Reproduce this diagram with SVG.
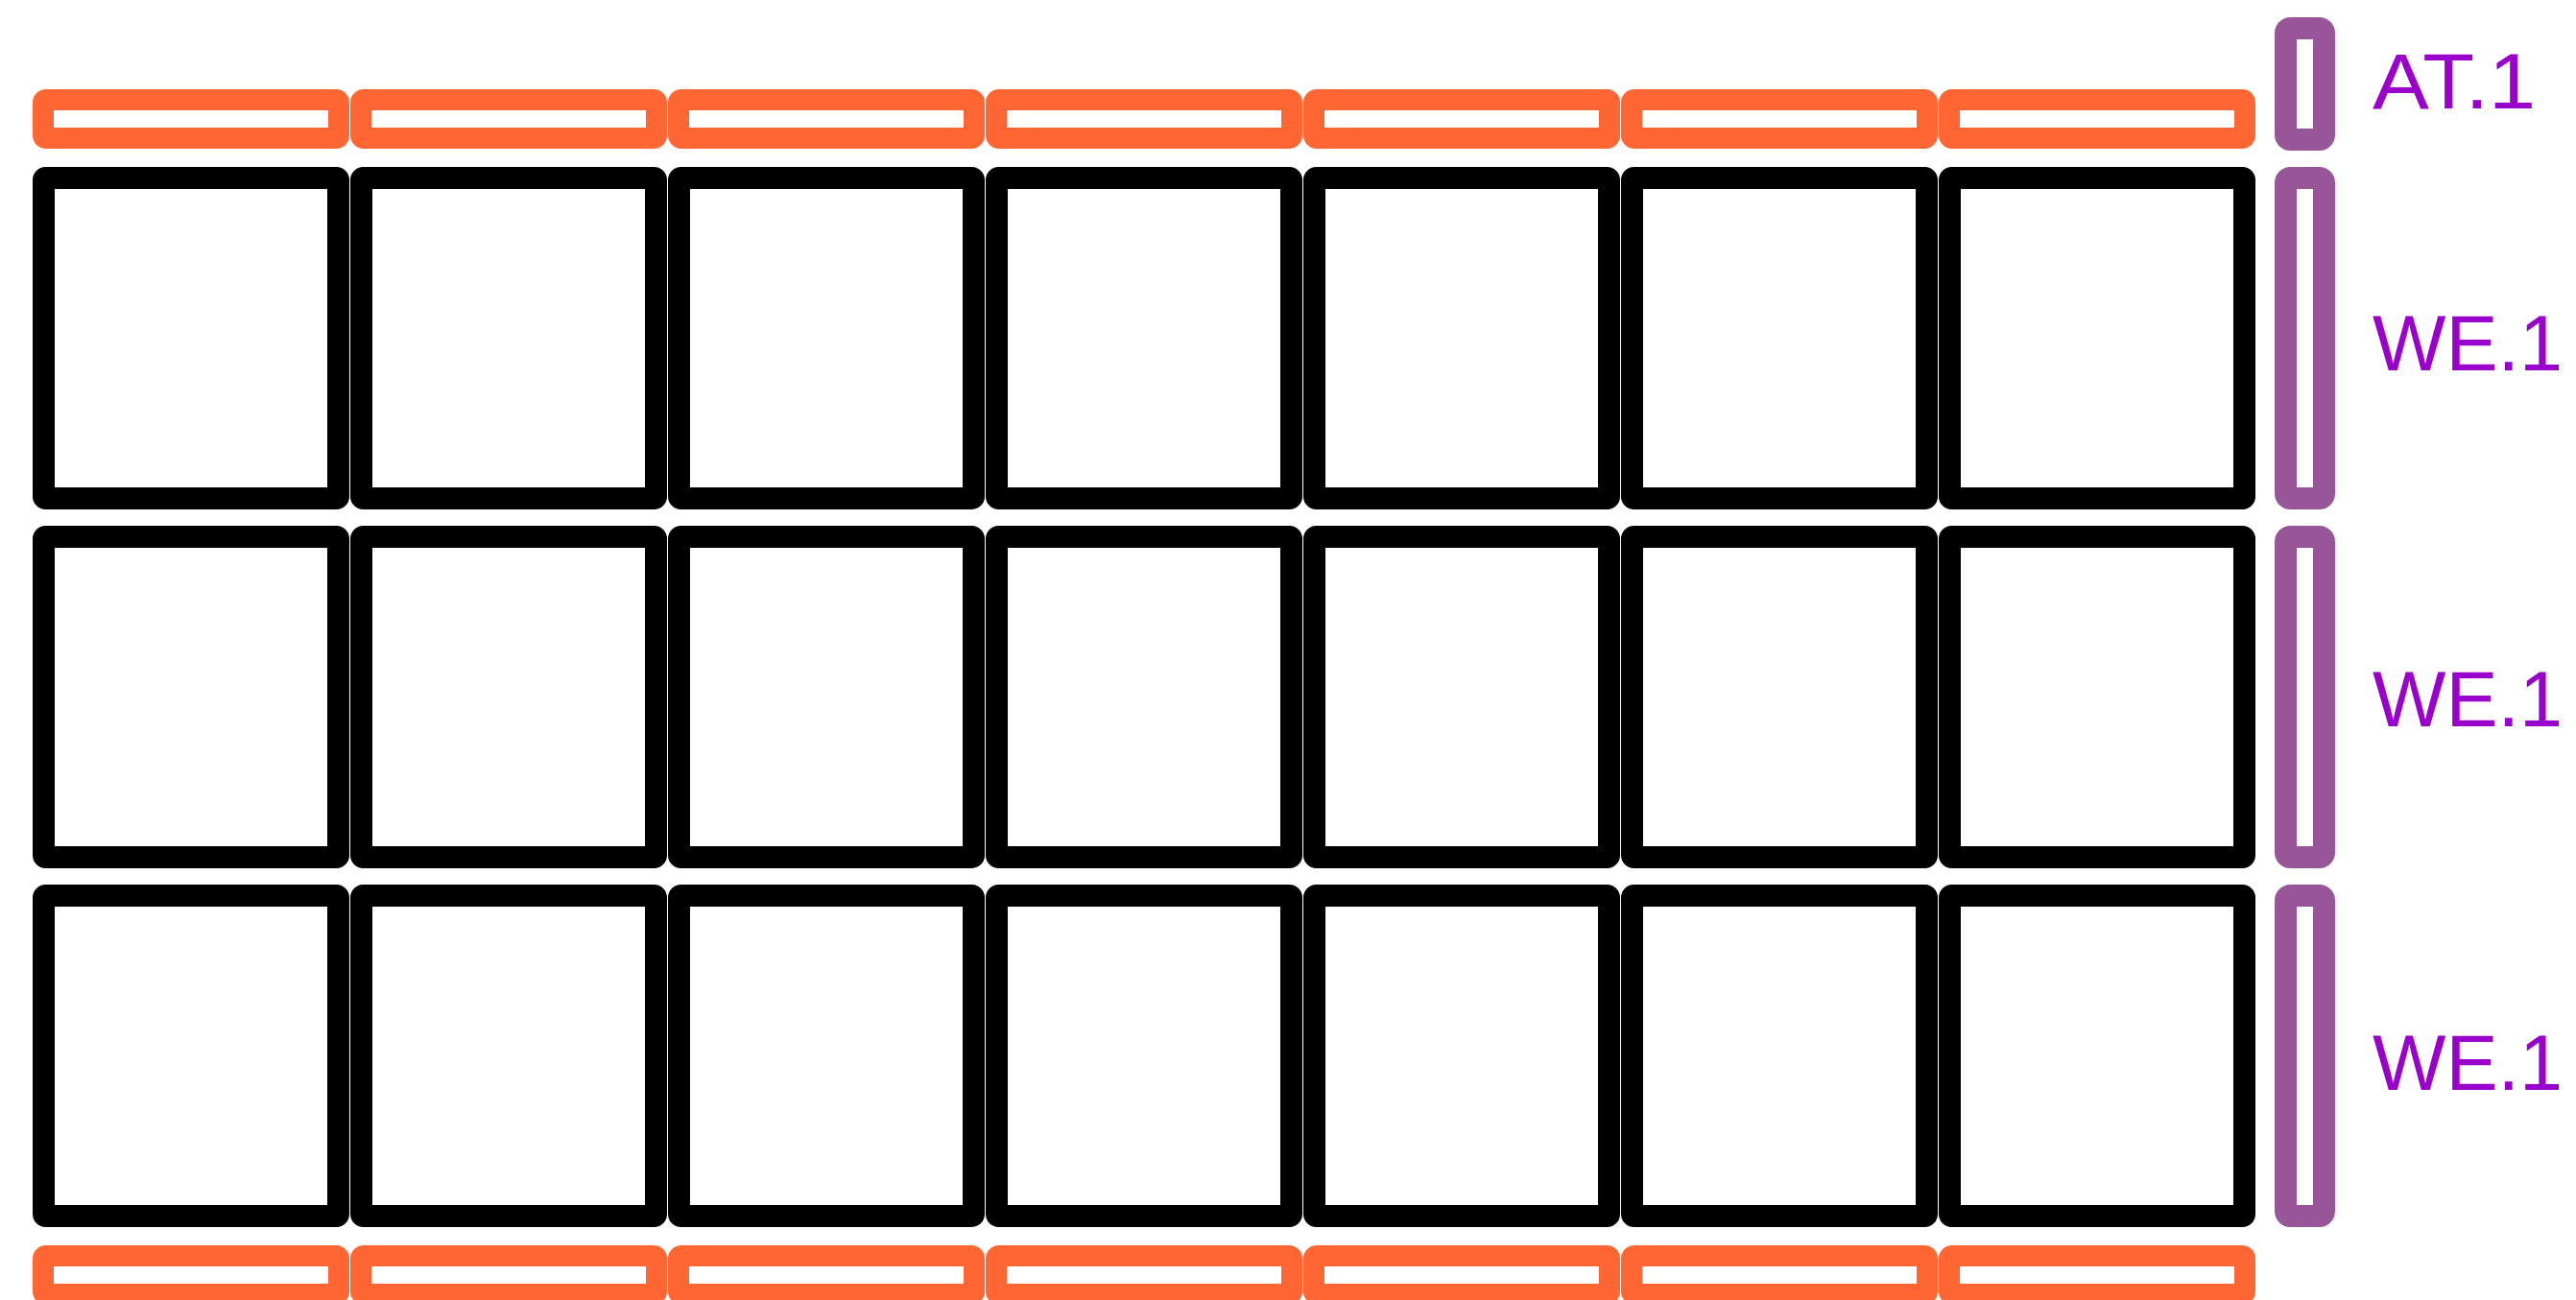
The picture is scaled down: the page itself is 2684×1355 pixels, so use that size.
<svg xmlns="http://www.w3.org/2000/svg" width="2684" height="1355" viewBox="0 0 2684 1355">
<style>
.cell{fill:#fff;stroke:#000;stroke-width:23}
.rail{fill:#fff;stroke:#FF6633;stroke-width:22}
.bar{fill:#fff;stroke:#985597;stroke-width:23}
.lbl{font-family:Arial,"Liberation Sans",Helvetica,sans-serif;font-size:82px;fill:#9900CC}
</style>
<defs>
<rect id="c" class="cell" x="0" y="0" width="307" height="334" rx="2"/>
<rect id="o" class="rail" x="0" y="0" width="308" height="40" rx="3"/>
</defs>
<rect width="2684" height="1355" fill="#fff"/>
<g id="rail-top">
<use href="#o" x="45" y="104"/><use href="#o" x="376" y="104"/><use href="#o" x="707" y="104"/><use href="#o" x="1038" y="104"/><use href="#o" x="1369" y="104"/><use href="#o" x="1700" y="104"/><use href="#o" x="2031" y="104"/>
</g>
<g id="row-1">
<use href="#c" x="45.5" y="185.5"/><use href="#c" x="376.5" y="185.5"/><use href="#c" x="707.5" y="185.5"/><use href="#c" x="1038.5" y="185.5"/><use href="#c" x="1369.5" y="185.5"/><use href="#c" x="1700.5" y="185.5"/><use href="#c" x="2031.5" y="185.5"/>
</g>
<g id="row-2">
<use href="#c" x="45.5" y="559.5"/><use href="#c" x="376.5" y="559.5"/><use href="#c" x="707.5" y="559.5"/><use href="#c" x="1038.5" y="559.5"/><use href="#c" x="1369.5" y="559.5"/><use href="#c" x="1700.5" y="559.5"/><use href="#c" x="2031.5" y="559.5"/>
</g>
<g id="row-3">
<use href="#c" x="45.5" y="933.5"/><use href="#c" x="376.5" y="933.5"/><use href="#c" x="707.5" y="933.5"/><use href="#c" x="1038.5" y="933.5"/><use href="#c" x="1369.5" y="933.5"/><use href="#c" x="1700.5" y="933.5"/><use href="#c" x="2031.5" y="933.5"/>
</g>
<g id="rail-bottom">
<use href="#o" x="45" y="1309"/><use href="#o" x="376" y="1309"/><use href="#o" x="707" y="1309"/><use href="#o" x="1038" y="1309"/><use href="#o" x="1369" y="1309"/><use href="#o" x="1700" y="1309"/><use href="#o" x="2031" y="1309"/>
</g>
<g id="label-at1">
<rect class="bar" x="2381.5" y="29.5" width="40" height="116" rx="5"/>
<text class="lbl" x="2472" y="113" textLength="170" lengthAdjust="spacingAndGlyphs">AT.1</text>
</g>
<g id="label-we1-row1">
<rect class="bar" x="2381.5" y="185.5" width="40" height="334" rx="5"/>
<text class="lbl" x="2472" y="386" textLength="198" lengthAdjust="spacingAndGlyphs">WE.1</text>
</g>
<g id="label-we1-row2">
<rect class="bar" x="2381.5" y="559.5" width="40" height="334" rx="5"/>
<text class="lbl" x="2472" y="757" textLength="198" lengthAdjust="spacingAndGlyphs">WE.1</text>
</g>
<g id="label-we1-row3">
<rect class="bar" x="2381.5" y="933.5" width="40" height="334" rx="5"/>
<text class="lbl" x="2472" y="1136" textLength="198" lengthAdjust="spacingAndGlyphs">WE.1</text>
</g>
<g id="connectors"/>
</svg>
